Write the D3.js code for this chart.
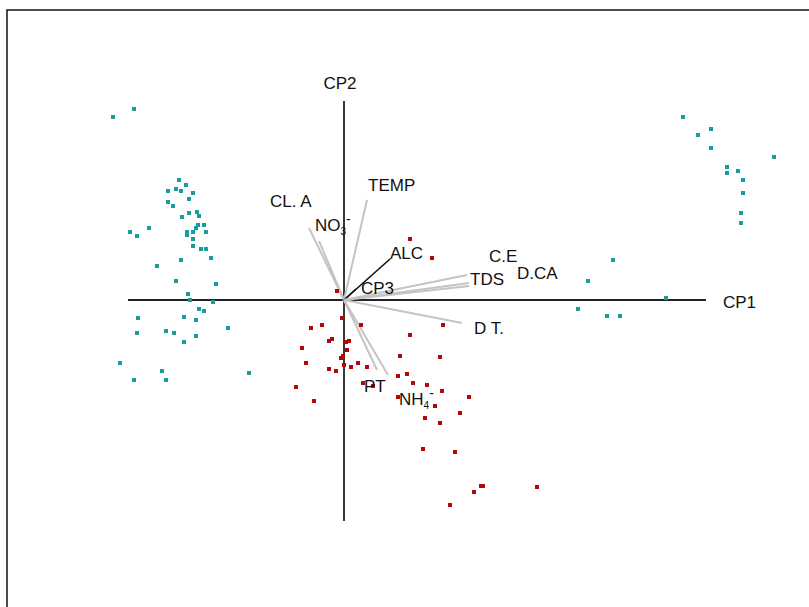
<!DOCTYPE html>
<html>
<head>
<meta charset="utf-8">
<script src="https://cdn.jsdelivr.net/npm/d3@7"></script>
<style>
  html, body { margin: 0; padding: 0; background: #fff; }
  svg text { font-family: "Liberation Sans", Arial, sans-serif; fill: #111; }
</style>
</head>
<body>
<svg id="chart" width="809" height="607"></svg>
<script>
// Biplot CP1 x CP2: sample scores + variable loadings
const groupA = [ // teal samples
  [-2.31,1.83],[-2.10,1.91],[-1.65,1.20],[-1.58,1.15],[-1.76,1.09],[-1.68,1.11],[-1.63,1.09],
  [-1.51,1.07],[-1.55,1.01],[-1.76,0.98],[-1.71,0.94],[-1.62,0.83],[-1.55,0.87],[-1.47,0.88],
  [-1.45,0.84],[-1.46,0.75],[-1.40,0.75],[-1.48,0.72],[-2.14,0.68],[-2.07,0.64],[-1.95,0.72],
  [-1.57,0.68],[-1.51,0.68],[-1.57,0.65],[-1.38,0.68],[-1.51,0.61],[-1.51,0.54],[-1.43,0.51],
  [-1.38,0.51],[-1.33,0.42],[-1.63,0.40],[-1.87,0.34],[-1.68,0.19],[-1.28,0.16],[-1.56,0.06],
  [-1.54,0.00],[-1.31,-0.02],[-1.45,-0.09],[-1.40,-0.11],[-2.06,-0.18],[-1.60,-0.17],[-1.48,-0.20],
  [-1.16,-0.28],[-2.07,-0.33],[-1.78,-0.31],[-1.70,-0.33],[-1.48,-0.36],[-1.60,-0.42],[-2.24,-0.63],
  [-1.82,-0.71],[-2.10,-0.80],[-1.78,-0.80],[-0.95,-0.73],
  [3.39,1.83],[3.54,1.65],[3.67,1.71],[3.67,1.52],[4.30,1.43],[3.83,1.33],[3.83,1.27],
  [3.94,1.29],[3.99,1.20],[3.99,1.07],[3.97,0.87],[3.97,0.77],[2.69,0.40],[2.44,0.19],
  [3.22,0.02],[2.34,-0.09],[2.63,-0.16],[2.76,-0.16]
];
const groupB = [ // red samples
  [-0.02,-0.18],[-0.33,-0.28],[-0.22,-0.25],[0.17,-0.25],[0.99,-0.25],[0.66,-0.35],[-0.15,-0.41],
  [-0.12,-0.39],[0.02,-0.42],[0.05,-0.41],[-0.42,-0.48],[0.03,-0.50],[0.56,-0.56],[0.96,-0.57],
  [-0.03,-0.58],[-0.01,-0.56],[-0.38,-0.63],[-0.15,-0.69],[-0.08,-0.71],[0.00,-0.65],[0.07,-0.67],
  [0.14,-0.63],[0.23,-0.67],[0.54,-0.76],[0.63,-0.74],[-0.48,-0.87],[0.19,-0.83],[0.29,-0.86],
  [0.69,-0.83],[0.83,-0.85],[0.98,-0.91],[-0.30,-1.01],[0.54,-0.97],[1.25,-0.97],[0.91,-1.06],
  [0.81,-1.18],[0.96,-1.23],[1.16,-1.13],[0.79,-1.49],[1.11,-1.52],[1.30,-1.92],[1.37,-1.86],
  [1.39,-1.86],[1.93,-1.87],[1.06,-2.05],[0.66,0.61],[0.88,0.42],[-0.07,0.09]
];

const varNames = ["TEMP","CL. A","NO3","ALC","CP3","TDS","C.E","D.CA","D T.","PT","NH4"];
const loadings = [
  [0.23,1.00],[-0.35,0.72],[-0.25,0.59],[0.46,0.41],[0.12,0.11],[1.23,0.25],
  [1.25,0.17],[1.25,0.14],[1.18,-0.23],[0.33,-0.70],[0.44,-0.75]
];
const darkVars = ["ALC","CP3"];
// where each variable name sits (data units, left/baseline)
const labelAt = [
  [0.24,1.09],[-0.74,0.93],[-0.29,0.69],[0.46,0.41],[0.17,0.06],[1.26,0.15],
  [1.45,0.38],[1.73,0.21],[1.30,-0.34],[0.20,-0.92],[0.55,-1.05]
];
const xAxisRange = [-2.16, 3.62];
const yAxisRange = [-2.21, 1.99];

const svg = d3.select("#chart");

// frame (top + left only, as in the source)
svg.append("path").attr("d","M7,607 L7,10 L809,10")
  .attr("fill","none").attr("stroke","#111").attr("stroke-width",1.5);

const x = d3.scaleLinear().domain(xAxisRange).range([128, 706]);
const y = d3.scaleLinear().domain(yAxisRange).range([521, 101]);

// axes through the origin
svg.append("line").attr("x1",x(xAxisRange[0])).attr("x2",x(xAxisRange[1]))
  .attr("y1",y(0)).attr("y2",y(0)).attr("stroke","#222").attr("stroke-width",1.8);
svg.append("line").attr("x1",x(0)).attr("x2",x(0))
  .attr("y1",y(yAxisRange[0])).attr("y2",y(yAxisRange[1])).attr("stroke","#222").attr("stroke-width",1.8);

svg.append("text").attr("x",x(0)-4).attr("y",89).attr("text-anchor","middle")
  .attr("font-size",17).text("CP2");
svg.append("text").attr("x",723).attr("y",308).attr("font-size",17).text("CP1");

// loading vectors
const vec = varNames.map((n,i)=>({name:n, v:loadings[i], at:labelAt[i]}));
svg.append("g").selectAll("line").data(vec).join("line")
  .attr("x1",x(0)).attr("y1",y(0))
  .attr("x2",d=>x(d.v[0])).attr("y2",d=>y(d.v[1]))
  .attr("stroke",d=>darkVars.includes(d.name) ? "#111" : "#c4c4c4")
  .attr("stroke-width",d=>darkVars.includes(d.name) ? 1.6 : 2);

// sample points
function drawPts(data, color){
  svg.append("g").selectAll("rect").data(data).join("rect")
    .attr("x",d=>x(d[0])-2).attr("y",d=>y(d[1])-2)
    .attr("width",4).attr("height",4).attr("fill",color);
}
drawPts(groupA, "#1a9c9c");
drawPts(groupB, "#b40606");

// variable labels (NO3-, NH4- get sub/superscripts)
const lab = svg.append("g").selectAll("text").data(vec).join("text")
  .attr("x",d=>x(d.at[0])).attr("y",d=>y(d.at[1])).attr("font-size",17);
lab.each(function(d){
  const t = d3.select(this);
  if(d.name==="NO3" || d.name==="NH4"){
    t.append("tspan").text(d.name.slice(0,2));
    t.append("tspan").attr("font-size",10).attr("dy",4).text(d.name.slice(2));
    t.append("tspan").attr("font-size",14).attr("dy",-11).text("-");
  } else {
    t.text(d.name);
  }
});
</script>
</body>
</html>
